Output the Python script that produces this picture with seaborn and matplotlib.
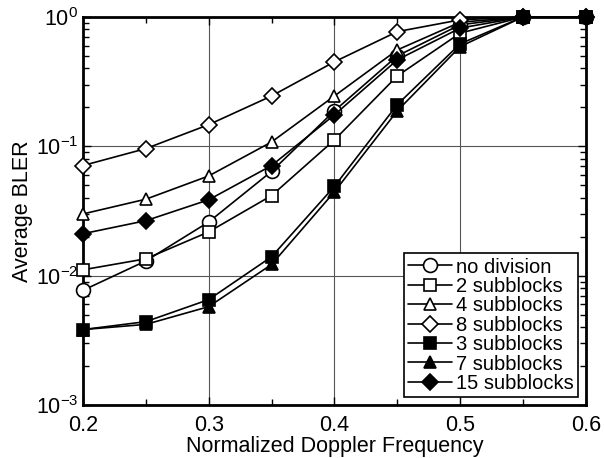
import numpy as np
import pandas as pd
import matplotlib
matplotlib.use("Agg")
import matplotlib.pyplot as plt
import seaborn as sns
from matplotlib.ticker import LogLocator, MultipleLocator, NullFormatter, FormatStrFormatter

sns.set_style("ticks")
plt.rcParams['font.family'] = ['Liberation Sans', 'DejaVu Sans']
plt.rcParams['mathtext.default'] = 'regular'
plt.rcParams['text.color'] = 'black'
plt.rcParams['axes.labelcolor'] = 'black'
plt.rcParams['xtick.color'] = 'black'
plt.rcParams['ytick.color'] = 'black'

doppler = [0.2, 0.25, 0.3, 0.35, 0.4, 0.45, 0.5, 0.55, 0.6]
no_division = [0.0077, 0.0130, 0.026, 0.064, 0.188, 0.50, 0.87, 1.0, 1.0]
sub2 = [0.0111, 0.0135, 0.0218, 0.0416, 0.112, 0.35, 0.75, 1.0, 1.0]
sub4 = [0.030, 0.039, 0.059, 0.108, 0.245, 0.556, 0.91, 1.0, 1.0]
sub8 = [0.071, 0.096, 0.147, 0.245, 0.45, 0.77, 0.95, 1.0, 1.0]
sub3 = [0.00383, 0.00441, 0.00653, 0.0140, 0.049, 0.21, 0.62, 1.0, 1.0]
sub7 = [0.00383, 0.0042, 0.00576, 0.0122, 0.0445, 0.188, 0.59, 1.0, 1.0]
sub15 = [0.0211, 0.0266, 0.0386, 0.071, 0.175, 0.466, 0.82, 1.0, 1.0]

series = [
    ("no division", no_division, 'o', 'white', 10),
    ("2 subblocks", sub2, 's', 'white', 8),
    ("4 subblocks", sub4, '^', 'white', 9),
    ("8 subblocks", sub8, 'D', 'white', 8.5),
    ("3 subblocks", sub3, 's', 'black', 8),
    ("7 subblocks", sub7, '^', 'black', 9),
    ("15 subblocks", sub15, 'D', 'black', 8.5),
]

fig = plt.figure(figsize=(6.04, 4.58), dpi=100)
ax = fig.add_axes([0.1374, 0.1157, 0.8326, 0.8473])

for name, vals, mk, fc, ms in series:
    df = pd.DataFrame({"x": doppler, "y": vals})
    sns.lineplot(data=df, x="x", y="y", ax=ax, color='black', linewidth=1.2,
                 marker=mk, markerfacecolor=fc, markeredgecolor='black',
                 markeredgewidth=1.2, markersize=ms, label=name, zorder=3,
                 clip_on=False)

ax.set_yscale('log')
ax.set_xlim(0.2, 0.6)
ax.set_ylim(1e-3, 1.0)
ax.xaxis.set_major_locator(MultipleLocator(0.1))
ax.xaxis.set_minor_locator(MultipleLocator(0.05))
ax.xaxis.set_major_formatter(FormatStrFormatter('%.1f'))
ax.yaxis.set_major_locator(LogLocator(base=10, numticks=10))
ax.yaxis.set_minor_locator(LogLocator(base=10, subs=np.arange(2, 10), numticks=50))
ax.yaxis.set_minor_formatter(NullFormatter())

ax.grid(True, which='major', color='#555555', linewidth=0.8)
ax.set_axisbelow(True)
ax.tick_params(which='both', direction='in', top=True, right=True, labelsize=15.5, color='black')
ax.tick_params(which='major', length=6, width=1)
ax.tick_params(which='minor', length=4, width=1)
ax.tick_params(axis='x', pad=7)
for sp in ax.spines.values():
    sp.set_linewidth(2)
    sp.set_color('black')

ax.set_xlabel('Normalized Doppler Frequency', fontsize=15.5, labelpad=0)
ax.set_ylabel('Average BLER', fontsize=15.5, labelpad=2)

leg = ax.legend(loc='lower right', fontsize=14.5, frameon=True, fancybox=False,
                edgecolor='black', framealpha=1, handlelength=2.2, handletextpad=0.2,
                labelspacing=0.02, borderpad=0.2, borderaxespad=0.4)
leg.get_frame().set_linewidth(1.2)

fig.savefig('out.png', dpi=100)
